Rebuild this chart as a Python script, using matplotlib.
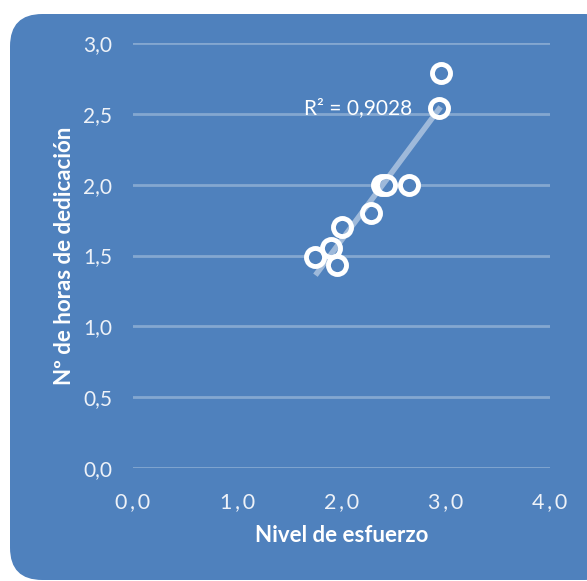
import matplotlib
matplotlib.use("Agg")
import matplotlib.pyplot as plt
import numpy as np
from matplotlib.patches import FancyBboxPatch

# Data
esfuerzo = [1.75, 1.90, 1.96, 2.00, 2.28, 2.39, 2.43, 2.65, 2.94, 2.95]
horas = [1.49, 1.55, 1.43, 1.70, 1.80, 2.00, 2.00, 2.00, 2.54, 2.79]
x_ticks = [0.0, 1.0, 2.0, 3.0, 4.0]
y_ticks = [0.0, 0.5, 1.0, 1.5, 2.0, 2.5, 3.0]
r2_label = "R² = 0,9028"
x_title = "Nivel de esfuerzo"
y_title = "Nº de horas de dedicación"

BLUE = "#4F81BD"
FONT = "Lato"
W, H = 587, 581
fig = plt.figure(figsize=(W / 100, H / 100), dpi=100)
fig.patch.set_facecolor("white")

# rounded background
bg = FancyBboxPatch((10 / W, 1 / H), (W - 10 + 30) / W, (H - 1 - 14) / H,
                    boxstyle="round,pad=0,rounding_size=0.055",
                    transform=fig.transFigure, facecolor=BLUE, edgecolor="none",
                    mutation_aspect=W / H, zorder=-5)
fig.patches.append(bg)

ax = fig.add_axes([133 / W, (H - 468) / H, 417 / W, 425 / H])
ax.set_zorder(2)
ax.set_facecolor("none")
ax.set_xlim(0, 4)
ax.set_ylim(0, 3)
for s in ax.spines.values():
    s.set_visible(False)

ax.set_yticks(y_ticks)
ax.set_xticks(x_ticks)
ax.set_yticklabels([f"{v:.1f}".replace(".", ",") for v in y_ticks],
                   fontsize=15, color="#EEF2F8", family=FONT)
ax.set_xticklabels([f"{v:.1f}".replace(".", "\u2009,\u2009") for v in x_ticks],
                   fontsize=15.5, color="#EEF2F8", family=[FONT, "DejaVu Sans"])
ax.tick_params(axis="both", length=0)
ax.tick_params(axis="y", pad=15)
ax.tick_params(axis="x", pad=17)

for v in y_ticks:
    ax.axhline(v, color="white", alpha=0.3, lw=2, zorder=1)

ax.plot(esfuerzo, horas, "o", ms=13, mfc=BLUE, mec="white", mew=3.5, zorder=3,
        clip_on=False)

# linear trendline
m, b = np.polyfit(esfuerzo, horas, 1)
xs = np.array([min(esfuerzo), max(esfuerzo)])
ax.plot(xs, m * xs + b, color="white", alpha=0.45, lw=4, zorder=4,
        solid_capstyle="butt")

ax.text(1.64, 2.54, r2_label, fontsize=15, color="white", family=FONT,
        ha="left", va="center", zorder=5)

ax.set_xlabel(x_title, fontsize=16, fontweight="bold", color="white",
              family=FONT, labelpad=10)
ax.set_ylabel(y_title, fontsize=16, fontweight="bold", color="white",
              family=FONT, labelpad=6)

fig.savefig("out.png", dpi=100)
